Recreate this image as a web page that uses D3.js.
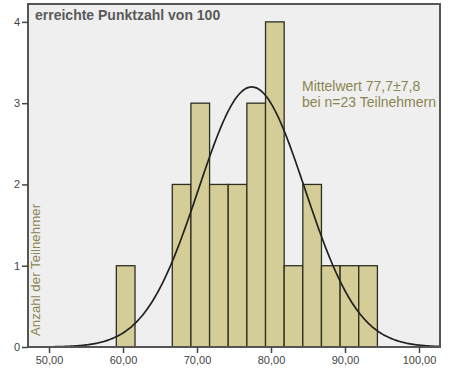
<!DOCTYPE html>
<html><head><meta charset="utf-8">
<script src="https://cdn.jsdelivr.net/npm/d3@7"></script>
<style>body{margin:0;background:#fff}svg{display:block}</style>
</head><body>
<svg id="c" width="468" height="379"></svg>
<script>
// Histogram bins (lower edges) and counts
const binStart = [59.1, 61.62, 64.14, 66.66, 69.18, 71.7, 74.22, 76.74, 79.26, 81.78, 84.3, 86.82, 89.34, 91.86];
const binWidth = 2.52;
const counts   = [1, 0, 0, 2, 3, 2, 2, 3, 4, 1, 2, 1, 1, 1];
const xTicks = [50, 60, 70, 80, 90, 100];
const yTicks = [0, 1, 2, 3, 4];
// Fitted normal curve (as drawn)
const curveMean = 77.4, curveSd = 7.2, curvePeak = 3.2;
const curveFrom = 50, curveTo = 102.8;

const svg = d3.select("#c");
const L = 28, R = 440, T = 4, B = 347;
const x = d3.scaleLinear().domain([47.16, 102.84]).range([L, R]);
const y = d3.scaleLinear().domain([0, 4.22]).range([B, T]);

svg.append("rect").attr("x", L).attr("y", T).attr("width", R - L).attr("height", B - T)
  .attr("fill", "#efefef");

svg.append("text").attr("x", 35).attr("y", 20)
  .attr("font-family", "Liberation Sans, Arial, sans-serif").attr("font-weight", "bold")
  .attr("font-size", 14).attr("fill", "#5a5a5a").text("erreichte Punktzahl von 100");

svg.append("g").selectAll("rect").data(binStart.map((s, i) => ({s, c: counts[i]})).filter(d => d.c > 0))
  .join("rect")
  .attr("x", d => x(d.s)).attr("width", d => x(d.s + binWidth) - x(d.s))
  .attr("y", d => y(d.c)).attr("height", d => y(0) - y(d.c))
  .attr("fill", "#d4cd98").attr("stroke", "#2e2e22").attr("stroke-width", 1.3);

const pts = d3.range(curveFrom, curveTo + 0.01, 0.2);
svg.append("path").datum(pts)
  .attr("d", d3.line().x(v => x(v)).y(v => y(curvePeak * Math.exp(-((v - curveMean) ** 2) / (2 * curveSd * curveSd)))).curve(d3.curveBasis))
  .attr("fill", "none").attr("stroke", "#222").attr("stroke-width", 1.7);

svg.append("text").attr("font-family", "Liberation Sans, Arial, sans-serif").attr("font-size", 14)
  .attr("fill", "#8b8550")
  .selectAll("tspan").data(["Mittelwert 77,7±7,8", "bei n=23 Teilnehmern"]).join("tspan")
  .attr("x", 302).attr("y", (d, i) => 91 + i * 16).text(d => d);

svg.append("text").attr("transform", "translate(40,336) rotate(-90)")
  .attr("font-family", "Liberation Sans, Arial, sans-serif").attr("font-size", 13.3)
  .attr("fill", "#8b8550").text("Anzahl der Teilnehmer");

// frame
svg.append("rect").attr("x", L).attr("y", T).attr("width", R - L).attr("height", B - T)
  .attr("fill", "none").attr("stroke", "#555").attr("stroke-width", 2);

const xAxis = svg.append("g").attr("transform", `translate(0,${B})`)
  .call(d3.axisBottom(x).tickValues(xTicks).tickSize(6).tickPadding(3).tickFormat(d => d3.format(".2f")(d).replace(".", ",")));
xAxis.select(".domain").remove();
xAxis.selectAll("line").attr("stroke", "#444").attr("stroke-width", 1.5);
xAxis.selectAll("text").attr("font-family", "Liberation Sans, Arial, sans-serif").attr("font-size", 11).attr("fill", "#444");

const yAxis = svg.append("g").attr("transform", `translate(${L},0)`)
  .call(d3.axisLeft(y).tickValues(yTicks).tickSize(6).tickPadding(2).tickFormat(d3.format("d")));
yAxis.select(".domain").remove();
yAxis.selectAll("line").attr("stroke", "#444").attr("stroke-width", 1.5);
yAxis.selectAll("text").attr("font-family", "Liberation Sans, Arial, sans-serif").attr("font-size", 11).attr("fill", "#444");
</script>
</body></html>
